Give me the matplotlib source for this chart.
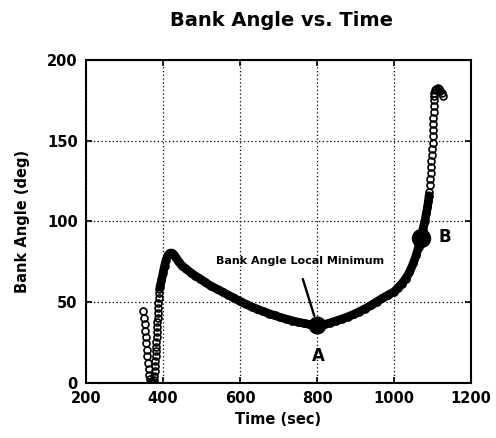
import matplotlib
matplotlib.use("Agg")
import matplotlib.pyplot as plt
import numpy as np

plt.rcParams['font.family'] = ['DejaVu Sans']

# --- data (time in sec, bank angle in deg) ---
time_s = [
    349, 350.5, 352, 353.5, 355, 356.5, 358, 359.5, 361, 362.5, 364, 366, 368.5, 371, 373.5, 376,
    377.5, 378.5, 379.5, 380.3, 381, 381.7, 382.4, 383, 383.6, 384.2, 384.8, 385.4, 386, 386.6,
    387.2, 387.8, 388.5, 389.3, 390.2,
    392, 396, 400, 404, 408, 413, 418, 423, 428, 434, 441, 450, 461, 472, 484, 496,
    510, 525, 540, 555, 570, 585, 600, 615, 630, 645, 660, 675, 690, 705, 720, 735, 750, 765,
    780, 790, 800, 810, 820, 835, 850, 865, 880, 895, 910, 925, 940, 955, 970, 985, 1000,
    1010, 1020, 1030, 1040, 1050, 1058, 1064, 1070, 1075, 1080, 1084, 1087, 1089.5, 1091,
    1092, 1093, 1094, 1095, 1096, 1097, 1098, 1099, 1100, 1100.8, 1101.5, 1102, 1102.4,
    1102.7, 1103, 1103.3, 1103.6,
    1105, 1107, 1110, 1113.5, 1117, 1120.5, 1124, 1127,
]
bank_deg = [
    44.5, 40.5, 36.5, 32.5, 28.5, 24.5, 20.5, 16.5, 12.5, 8.5, 5.0, 2.2, 0.6, 0.0, 0.4, 1.8,
    4.5, 7.5, 10.5, 13.5, 16.5, 19.5, 22.5, 25.5, 28.5, 31.5, 34.5, 37.5, 40.5, 43.5,
    46.5, 49.5, 52.5, 55.5, 58.5,
    59.5, 63.5, 68.0, 72.5, 76.3, 79.2, 80.4, 80.5, 79.5, 77.5, 75.0, 72.5, 70.5, 68.3, 66.3, 64.6,
    62.3, 60.0, 58.2, 56.3, 54.4, 52.5, 50.6, 48.8, 47.2, 45.7, 44.3, 43.0, 41.8, 40.6, 39.6,
    38.6, 37.7, 37.0, 36.3, 35.9, 35.6, 35.8, 36.3, 37.3, 38.5, 39.7, 41.0, 42.5, 44.2, 46.0,
    48.0, 50.3, 52.5, 54.5, 56.5,
    58.8, 61.5, 64.5, 68.5, 74.0, 79.5, 84.5, 90.0, 95.0, 100.0, 105.0, 109.0, 113.0, 116.0,
    118.5, 122.3, 126.1, 129.9, 133.7, 137.5, 141.3, 145.1, 148.9, 152.7, 156.5, 160.3, 164.1,
    167.9, 171.7, 175.0, 177.5,
    179.8, 181.3, 182.2, 182.4, 182.0, 181.0, 179.5, 177.5,
]
point_a = (800, 35.6)
point_b = (1070, 90.0)
x_ticks = [200, 400, 600, 800, 1000, 1200]
y_ticks = [0, 50, 100, 150, 200]

t = np.array(time_s)
b = np.array(bank_deg)

fig = plt.figure(figsize=(4.96, 4.38), dpi=100)
ax = fig.add_axes([0.1734, 0.1256, 0.7762, 0.7374])

ax.set_xlim(200, 1200)
ax.set_ylim(0, 200)
ax.set_xticks(x_ticks)
ax.set_yticks(y_ticks)

ax.grid(True, color='black', linestyle=(0, (1, 2.0)), linewidth=0.9)
ax.set_axisbelow(True)

# slow part drawn as thick solid trace (overlapping samples)
slow = (t >= 391) & (t <= 1091)
ax.plot(t[slow], b[slow], '-', color='black', lw=6.2, solid_capstyle='round', zorder=3)
# all samples as open circles
ax.plot(t, b, 'o', mfc='none', mec='black', ms=5.0, mew=1.2, zorder=4)

ax.plot(*point_a, 'o', color='black', ms=12, zorder=5)
ax.plot(*point_b, 'o', color='black', ms=13, zorder=5)

ax.text(803, 17, 'A', ha='center', va='center', fontsize=12, fontweight='bold')
ax.text(1131, 90.6, 'B', ha='center', va='center', fontsize=12, fontweight='bold')

ax.text(756, 75.5, 'Bank Angle Local Minimum', ha='center', va='center',
        fontsize=8.0, fontweight='bold')
ax.annotate('', xy=(795, 40), xytext=(761, 66),
            arrowprops=dict(arrowstyle='-', lw=1.7, color='black'))

for s in ax.spines.values():
    s.set_linewidth(1.5)
ax.tick_params(direction='in', length=4, width=1.2, top=True, right=True,
               labelsize=10.5, pad=6)
for lab in ax.get_xticklabels() + ax.get_yticklabels():
    lab.set_fontweight('bold')

ax.set_xlabel('Time (sec)', fontsize=10.5, fontweight='bold', labelpad=4)
ax.set_ylabel('Bank Angle (deg)', fontsize=10.5, fontweight='bold', labelpad=12)
fig.text(0.567, 0.953, 'Bank Angle vs. Time', ha='center', va='center',
         fontsize=14, fontweight='bold')

fig.savefig('out.png', dpi=100)
